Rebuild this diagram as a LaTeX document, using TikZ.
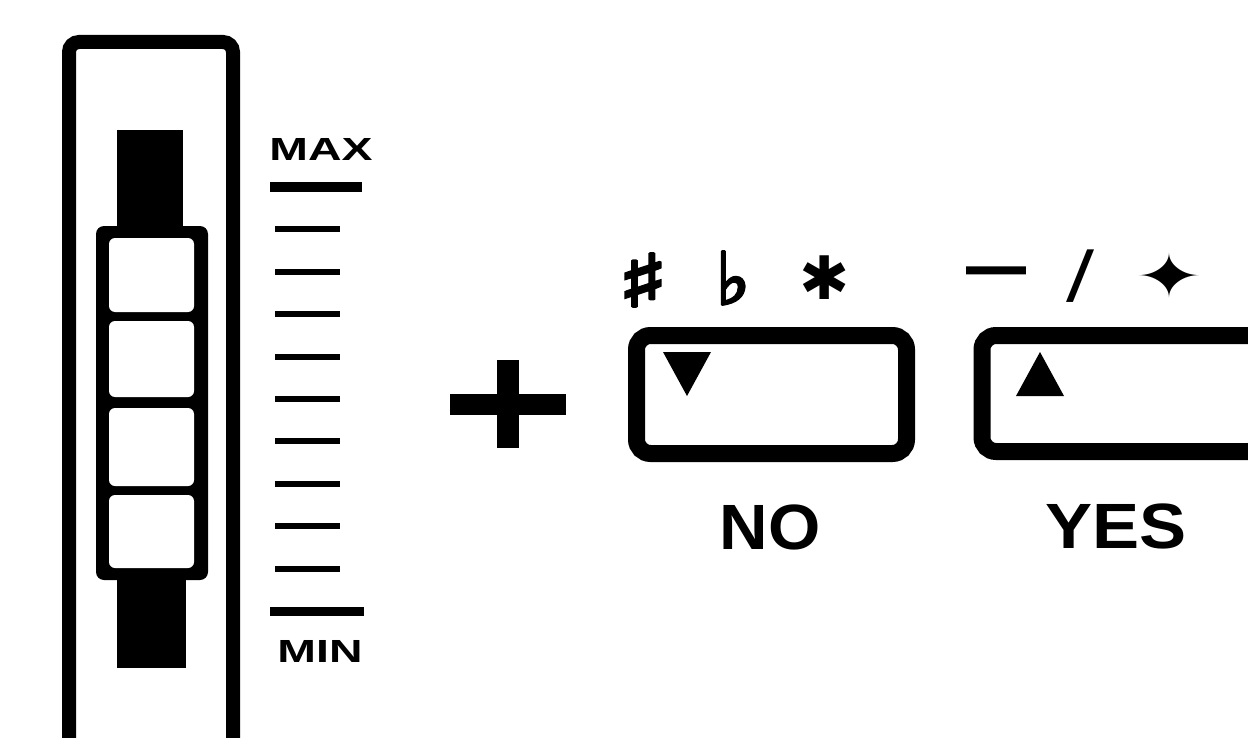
\documentclass[tikz,border=0pt]{standalone}
\usepackage{fontspec}
\setmainfont{Liberation Sans}
\newfontfamily\symfont{DejaVu Sans}
\newfontfamily\heavysymfont{DejaVu Sans}[FakeBold=4]
\usepackage{tikz}

\begin{document}
\begin{tikzpicture}[x=0.5pt,y=-0.5pt,
  scalemark/.style={line width=3pt},
  endmark/.style={line width=4.5pt},
  keybox/.style={line width=8.5pt, rounded corners=7pt},
  smalllabel/.style={font=\bfseries\fontsize{16}{16}\selectfont, xscale=1.45},
  keylabel/.style={font=\bfseries\fontsize{32}{32}\selectfont, xscale=1.05},
  keysym/.style={font=\symfont\fontsize{30}{30}\selectfont},
  heavysym/.style={font=\heavysymfont\fontsize{36}{36}\selectfont}]
\useasboundingbox (0,0) rectangle (1248,738);
\draw[line width=7pt, rounded corners=5pt] (69,738) -- (69,42) -- (233,42) -- (233,738);
\fill (117,130) rectangle (183,230);
\fill (117,575) rectangle (186,668);
\fill[rounded corners=4pt] (96,226) rectangle (208,580);
\fill[white, rounded corners=3pt] (109,238) rectangle (194,312);
\fill[white, rounded corners=3pt] (109,321) rectangle (194,397);
\fill[white, rounded corners=3pt] (109,408) rectangle (194,486);
\fill[white, rounded corners=3pt] (109,495) rectangle (194,568);
\node[smalllabel] (maxlabel) at (321,149) {MAX};
\draw[endmark] (270,187) -- (362,187);
\draw[scalemark] (275,229.4) -- (340,229.4);
\draw[scalemark] (275,271.8) -- (340,271.8);
\draw[scalemark] (275,314.2) -- (340,314.2);
\draw[scalemark] (275,356.6) -- (340,356.6);
\draw[scalemark] (275,399) -- (340,399);
\draw[scalemark] (275,441.4) -- (340,441.4);
\draw[scalemark] (275,483.8) -- (340,483.8);
\draw[scalemark] (275,526.2) -- (340,526.2);
\draw[scalemark] (275,568.6) -- (340,568.6);
\draw[endmark] (270,611) -- (364,611);
\node[smalllabel] (minlabel) at (320,651) {MIN};
\fill (497,360) rectangle (519,448);
\fill (450,394) rectangle (566,415);
\draw[keybox] (636.5,335.5) rectangle (906.5,453.5);
\draw[keybox] (982,335.5) rectangle (1262,451.5);
\fill (663,352) -- (711,352) -- (687,396) -- cycle;
\fill (1016,396) -- (1064,396) -- (1040,352) -- cycle;
\node[heavysym, xscale=1.45] (sharp) at (643,280) {♯};
\node[heavysym, xscale=1.0] (flat) at (733,278) {♭};
\node[keysym] (asterisk) at (825,278) {✱};
\node[heavysym, xscale=0.88] (dash) at (996,279) {—};
\node[keysym, font=\symfont\fontsize{32}{32}\selectfont, xscale=1.3] (slash) at (1081,276) {/};
\node[keysym, xscale=1.35] (spark) at (1169,276) {✦};
\node[keylabel] (nolabel) at (770,527) {NO};
\node[keylabel, xscale=1.05] (yeslabel) at (1116,526) {YES};
\end{tikzpicture}
\end{document}
